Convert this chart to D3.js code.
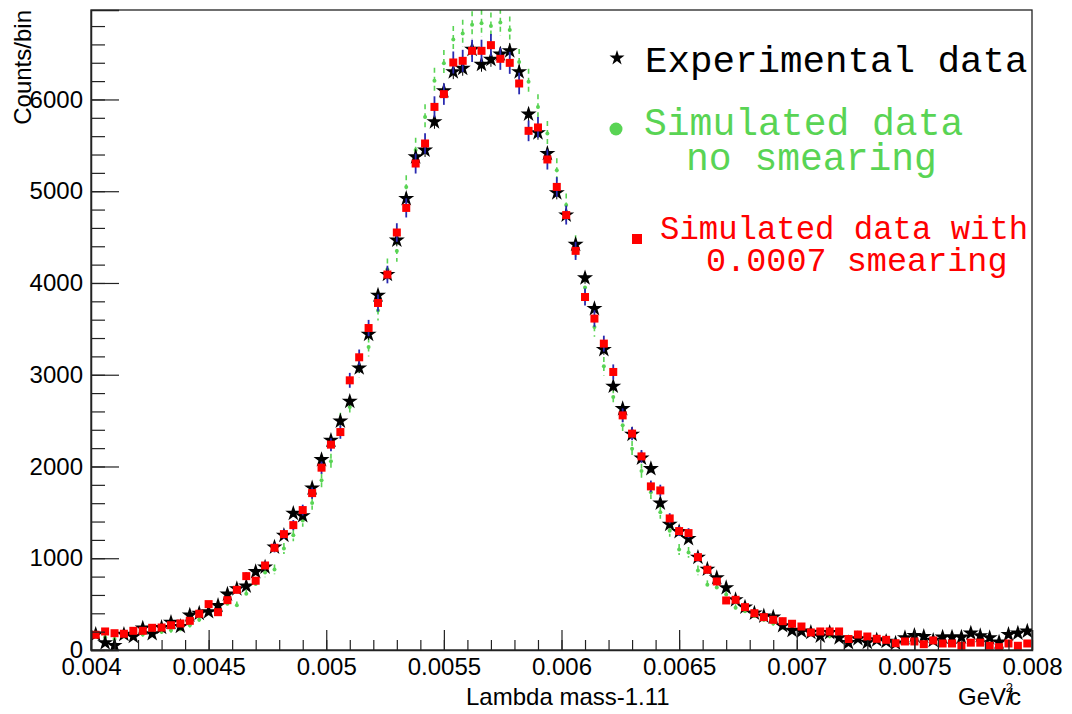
<!DOCTYPE html>
<html>
<head>
<meta charset="utf-8">
<script src="https://cdn.jsdelivr.net/npm/d3@7"></script>
<style>
  body { margin: 0; background: #fff; }
  svg text { font-family: "Liberation Sans", Arial, Helvetica, sans-serif; }
</style>
</head>
<body>
<div id="chart"></div>
<script>
// 100 bins from 0.004 to 0.008 GeV/c2
const xMin = 0.004, xMax = 0.008, nBins = 100;
const binWidth = (xMax - xMin) / nBins;

// Experimental data (black stars)
const expCounts = [
  170, 78, 49, 170, 147, 238, 177, 245, 300, 256,
  380, 400, 417, 485, 608, 667, 696, 853, 903, 1121,
  1249, 1489, 1463, 1765, 2074, 2285, 2495, 2710, 3073, 3440,
  3866, 4092, 4466, 4920, 5374, 5447, 5756, 6094, 6301, 6338,
  6545, 6382, 6436, 6494, 6530, 6301, 5840, 5636, 5411, 4982,
  4740, 4420, 4055, 3721, 3274, 2874, 2630, 2350, 2090, 1976,
  1601, 1369, 1290, 1213, 1010, 880, 787, 678, 547, 467,
  401, 370, 358, 264, 213, 205, 191, 151, 190, 133,
  80, 122, 82, 110, 93, 74, 133, 158, 147, 104,
  140, 140, 140, 183, 155, 133, 85, 169, 183, 205
];

// Simulated data, no smearing (green dots)
const simNoSmear = [
  150, 140, 120, 150, 160, 170, 190, 200, 215, 231,
  270, 330, 400, 485, 503, 489, 613, 720, 845, 878,
  1107, 1250, 1412, 1601, 1850, 2056, 2495, 2648, 3073, 3302,
  3700, 4150, 4349, 5047, 5450, 5810, 6203, 6396, 6654, 6720,
  6814, 6830, 6800, 6840, 6756, 6407, 6192, 5919, 5629, 5229,
  4850, 4400, 3950, 3520, 3092, 2757, 2450, 2194, 1950, 1720,
  1500, 1300, 1096, 1063, 867, 711, 682, 605, 460, 423,
  370, 330, 290, 250, 220, 200, 180, 160, 150, 125,
  120, 110, 110, 100, 95, 90, 90, 85, 80, 85,
  80, 75, 70, 80, 75, 70, 65, 70, 65, 60
];

// Simulated data with 0.0007 smearing (red squares)
const simSmear = [
  166, 202, 183, 177, 209, 209, 242, 245, 270, 289,
  318, 395, 500, 412, 543, 656, 805, 755, 921, 1114,
  1263, 1361, 1525, 1710, 1987, 2238, 2375, 2939, 3190, 3509,
  3782, 4092, 4550, 4818, 5302, 5520, 5919, 6058, 6403, 6421,
  6530, 6530, 6592, 6443, 6399, 6174, 5658, 5695, 5346, 5047,
  4740, 4350, 3847, 3612, 3339, 3030, 2557, 2358, 2110, 1783,
  1739, 1434, 1296, 1274, 1012, 875, 747, 540, 547, 467,
  401, 358, 329, 314, 286, 256, 191, 202, 202, 202,
  120, 169, 147, 122, 111, 74, 93, 93, 63, 104,
  71, 71, 46, 80, 80, 46, 31, 71, 46, 71
];

const xTicks = [0.004, 0.0045, 0.005, 0.0055, 0.006, 0.0065, 0.007, 0.0075, 0.008];
const yTicks = [0, 1000, 2000, 3000, 4000, 5000, 6000];

const width = 1072, height = 714;
const padL = 91, padR = 1032, padT = 10, padB = 650;

const svg = d3.select("#chart")
  .append("svg")
  .attr("width", width)
  .attr("height", height);

svg.append("rect").attr("width", width).attr("height", height).attr("fill", "#fff");

const xScale = d3.scaleLinear().domain([xMin, xMax]).range([padL, padR]);
const yScale = d3.scaleLinear().domain([0, 6975]).range([padB, padT]);

const binCenter = i => xMin + binWidth * (i + 0.5);

svg.append("clipPath").attr("id", "frame")
  .append("rect")
  .attr("x", padL).attr("y", padT)
  .attr("width", padR - padL).attr("height", padB - padT);

const plot = svg.append("g").attr("clip-path", "url(#frame)");

// green: dashed error bars + small dots
const green = "#59d454";
plot.append("g").selectAll("line")
  .data(simNoSmear)
  .join("line")
  .attr("x1", (d, i) => xScale(binCenter(i)))
  .attr("x2", (d, i) => xScale(binCenter(i)))
  .attr("y1", d => yScale(d + 1.8 * Math.sqrt(d)))
  .attr("y2", d => yScale(Math.max(0, d - 1.8 * Math.sqrt(d))))
  .attr("stroke", green)
  .attr("stroke-width", 1.6)
  .attr("stroke-dasharray", "5,4");

plot.append("g").selectAll("circle")
  .data(simNoSmear)
  .join("circle")
  .attr("cx", (d, i) => xScale(binCenter(i)))
  .attr("cy", d => yScale(d))
  .attr("r", 2)
  .attr("fill", green);

// black stars
const star = d3.symbol().type(d3.symbolStar).size(80);
plot.append("g").selectAll("line")
  .data(expCounts)
  .join("line")
  .attr("x1", (d, i) => xScale(binCenter(i)))
  .attr("x2", (d, i) => xScale(binCenter(i)))
  .attr("y1", d => yScale(d + Math.sqrt(d)))
  .attr("y2", d => yScale(Math.max(0, d - Math.sqrt(d))))
  .attr("stroke", "#000")
  .attr("stroke-width", 1);

plot.append("g").selectAll("path")
  .data(expCounts)
  .join("path")
  .attr("d", star)
  .attr("transform", (d, i) => `translate(${xScale(binCenter(i))},${yScale(d)})`)
  .attr("fill", "#000");

// red squares with blue error bars
plot.append("g").selectAll("line")
  .data(simSmear)
  .join("line")
  .attr("x1", (d, i) => xScale(binCenter(i)))
  .attr("x2", (d, i) => xScale(binCenter(i)))
  .attr("y1", d => yScale(d + 1.5 * Math.sqrt(d)))
  .attr("y2", d => yScale(Math.max(0, d - 1.5 * Math.sqrt(d))))
  .attr("stroke", "#2a2ab0")
  .attr("stroke-width", 1.8);

plot.append("g").selectAll("rect")
  .data(simSmear)
  .join("rect")
  .attr("x", (d, i) => xScale(binCenter(i)) - 4)
  .attr("y", d => yScale(d) - 4)
  .attr("width", 8)
  .attr("height", 8)
  .attr("fill", "#ff0000");

// frame
svg.append("rect")
  .attr("x", padL).attr("y", padT)
  .attr("width", padR - padL).attr("height", padB - padT)
  .attr("fill", "none")
  .attr("stroke", "#222")
  .attr("stroke-width", 1.3);

// axes (ticks inside like ROOT)
const xMinor = d3.range(0, 41).map(k => xMin + k * 0.0001);
svg.append("g")
  .attr("transform", `translate(0,${padB})`)
  .call(d3.axisBottom(xScale).tickValues(xMinor).tickSize(-10).tickFormat(""))
  .call(g => g.select(".domain").remove());

svg.append("g")
  .attr("transform", `translate(0,${padB})`)
  .call(d3.axisBottom(xScale).tickValues(xTicks).tickSize(-20).tickPadding(8)
    .tickFormat(d => String(+d.toFixed(4))))
  .call(g => g.select(".domain").attr("stroke", "#222").attr("stroke-width", 1.5))
  .call(g => g.selectAll("text").attr("font-size", 24).attr("fill", "#000")
    .attr("dy", "0.71em").attr("font-family", "Liberation Sans, Arial, sans-serif"));

const yMinor = d3.range(0, 35).map(k => k * 200);
svg.append("g")
  .attr("transform", `translate(${padL},0)`)
  .call(d3.axisLeft(yScale).tickValues(yMinor).tickSize(-14).tickFormat(""))
  .call(g => g.select(".domain").remove());

svg.append("g")
  .attr("transform", `translate(${padL},0)`)
  .call(d3.axisLeft(yScale).tickValues(yTicks).tickSize(-28).tickPadding(8)
    .tickFormat(d3.format("d")))
  .call(g => g.select(".domain").attr("stroke", "#222").attr("stroke-width", 1.5))
  .call(g => g.selectAll("text").attr("font-size", 24).attr("fill", "#000")
    .attr("font-family", "Liberation Sans, Arial, sans-serif"));

svg.selectAll(".tick line").attr("stroke", "#222").attr("stroke-width", 1.2);

// axis titles
svg.append("text")
  .attr("x", 466)
  .attr("y", 705)
  .style("font-size", "24px")
  .text("Lambda mass-1.11");

const unit = svg.append("text")
  .attr("x", 958)
  .attr("y", 705)
  .style("font-size", "24px");
unit.append("tspan").text("GeV/");
unit.append("tspan").attr("dx", -7).attr("dy", -13).style("font-size", "13px").text("2");
unit.append("tspan").attr("dx", -4).attr("dy", 13).text("c");

svg.append("text")
  .attr("transform", "rotate(-90)")
  .attr("x", -10)
  .attr("y", 31)
  .attr("text-anchor", "end")
  .style("font-size", "24px")
  .text("Counts/bin");

// legend
const mono = "'Liberation Mono', 'Courier New', monospace";
svg.append("path")
  .attr("d", d3.symbol().type(d3.symbolStar).size(70)())
  .attr("transform", "translate(617,58)")
  .attr("fill", "#000");
svg.append("text").attr("x", 645).attr("y", 72)
  .style("font-family", mono).style("font-size", "37.5px").attr("fill", "#000")
  .text("Experimental data");

svg.append("circle").attr("cx", 616).attr("cy", 129).attr("r", 6.5).attr("fill", green);
svg.append("text").attr("x", 644).attr("y", 135)
  .style("font-family", mono).style("font-size", "38px").attr("fill", green)
  .text("Simulated data");
svg.append("text").attr("x", 686).attr("y", 170)
  .style("font-family", mono).style("font-size", "38px").attr("fill", green)
  .text("no smearing");

svg.append("rect").attr("x", 632).attr("y", 234).attr("width", 10).attr("height", 10).attr("fill", "#ff0000");
svg.append("text").attr("x", 660).attr("y", 239)
  .style("font-family", mono).style("font-size", "32.3px").attr("fill", "#ff0000")
  .text("Simulated data with");
svg.append("text").attr("x", 706).attr("y", 271)
  .style("font-family", mono).style("font-size", "33.5px").attr("fill", "#ff0000")
  .text("0.0007 smearing");
</script>
</body>
</html>
